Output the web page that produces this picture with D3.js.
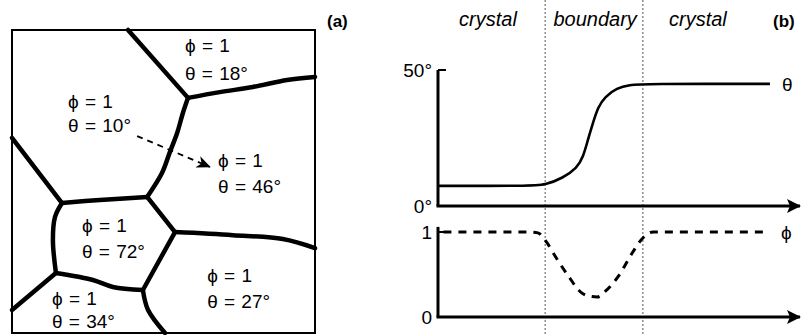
<!DOCTYPE html>
<html><head><meta charset="utf-8">
<script src="https://cdn.jsdelivr.net/npm/d3@7"></script>
<style>body{margin:0;background:#fff}svg{display:block}text{font-family:"Liberation Sans",Arial,sans-serif;fill:#000}</style>
</head><body>
<script>
// ---------- Panel (a): grain map (map units 0..100) ----------
const boundaries = [
  [[38.3,0],[58.1,22.4]],
  [[58.1,22.4],[68.6,20.5],[79.5,18.8],[90.8,16.5],[100,15.5]],
  [[58.1,22.4],[56.4,27.4],[54.5,34],[52.1,40.3],[49.5,47.2],[44.6,55.1]],
  [[0,35.6],[16.5,57.1]],
  [[16.5,57.1],[29,56.1],[44.6,55.1]],
  [[44.6,55.1],[53.8,66.7]],
  [[53.8,66.7],[72.9,67.7],[89.4,69],[100,72]],
  [[16.5,57.1],[14.2,61.7],[13.5,69.3],[14.5,80.2]],
  [[14.5,80.2],[0,92.4]],
  [[14.5,80.2],[26.7,82.5],[33.3,84.8],[43.2,85.8]],
  [[53.8,66.7],[43.2,85.8]],
  [[43.2,85.8],[44.9,92.4],[50.5,100]]
];
const grainPhi   = [1, 1, 1, 1, 1, 1];
const grainTheta = [18, 10, 46, 72, 27, 34];
const grainLabelX = [57.1, 18.5, 68.0, 23.1, 64.4, 13.2];
const grainPhiY   = [7.3, 25.7, 45.2, 66.7, 83.2, 90.8];
const grainThetaY = [16.5, 33.7, 53.8, 75.2, 91.7, 98.3];
const rotationArrow = [[41.3,35],[65.3,45.2]];

// ---------- Panel (b): profiles ----------
const thetaX = [0, 25.4, 29.6, 34.5, 38.4, 40.1, 41.4, 42.8, 44.2, 46.1, 49.4, 53.0, 56.6, 91.7];
const thetaV = [7.4, 7.4, 7.7, 10.3, 14.0, 18.0, 24.3, 30.5, 36.4, 40.1, 43.4, 44.5, 44.9, 44.9];
const phiX = [1.5, 25.5, 27.6, 30.0, 32.6, 36.2, 39.5, 42.5, 44.0, 46.4, 50.0, 53.6, 56.6, 59.4, 90.9];
const phiV = [1, 1, 0.99, 0.88, 0.70, 0.47, 0.29, 0.24, 0.235, 0.31, 0.49, 0.75, 0.93, 1, 1];
const thetaTicks = [0, 50];
const thetaTickLabels = ["0°", "50°"];
const phiTicks = [0, 1];
const phiTickLabels = ["0", "1"];
const regionNames = ["crystal", "boundary", "crystal"];
const regionX = [13.8, 43.4, 71.8];
const boundaryEdges = [29.6, 56.6];

const PHI = "\u03D5", THETA = "\u03B8";
const W = 803, H = 335;
const svg = d3.select("body").append("svg").attr("width", W).attr("height", H);
const defs = svg.append("defs");
defs.append("marker").attr("id","axarrow").attr("viewBox","0 0 14 14").attr("refX",13).attr("refY",7)
  .attr("markerWidth",14).attr("markerHeight",14).attr("markerUnits","userSpaceOnUse").attr("orient","auto")
  .append("path").attr("d","M0,0 L14,7 L0,14 L3,7 Z").attr("fill","#000");
defs.append("marker").attr("id","smallarrow").attr("viewBox","0 0 14 12").attr("refX",13).attr("refY",6)
  .attr("markerWidth",14).attr("markerHeight",12).attr("markerUnits","userSpaceOnUse").attr("orient","auto")
  .append("path").attr("d","M0,0 L14,6 L0,12 L4,6 Z").attr("fill","#000");

// ---- Panel (a)
const mx = d3.scaleLinear([0,100],[12,315]);
const my = d3.scaleLinear([0,100],[30,333]);
const gA = svg.append("g");
gA.append("rect").attr("x",mx(0)).attr("y",my(0)).attr("width",mx(100)-mx(0)).attr("height",my(100)-my(0))
  .attr("fill","none").attr("stroke","#000").attr("stroke-width",2);
const mline = d3.line().x(d=>mx(d[0])).y(d=>my(d[1])).curve(d3.curveCatmullRom.alpha(0.5));
gA.selectAll("path.gb").data(boundaries).join("path").attr("class","gb")
  .attr("d", mline).attr("fill","none").attr("stroke","#000").attr("stroke-width",4.5)
  .attr("stroke-linejoin","round").attr("stroke-linecap","round");
gA.append("path").attr("d", d3.line().x(d=>mx(d[0])).y(d=>my(d[1]))(rotationArrow))
  .attr("fill","none").attr("stroke","#000").attr("stroke-width",1.8).attr("stroke-dasharray","6,5")
  .attr("marker-end","url(#smallarrow)");
const fs = 19;
grainTheta.forEach((t,i)=>{
  gA.append("text").attr("x",mx(grainLabelX[i])).attr("y",my(grainPhiY[i])).attr("font-size",fs)
    .attr("word-spacing",1).text(PHI + " = " + grainPhi[i]);
  gA.append("text").attr("x",mx(grainLabelX[i])).attr("y",my(grainThetaY[i])).attr("font-size",fs)
    .attr("word-spacing",1).text(THETA + " = " + t + "°");
});
svg.append("text").attr("x",327).attr("y",27).attr("font-size",17).attr("font-weight","bold").text("(a)");

// ---- Panel (b)
const xb = d3.scaleLinear([0,100],[438,800]);
const yT = d3.scaleLinear([0,50],[206,70]);
const yP = d3.scaleLinear([0,1],[317,232]);
const gB = svg.append("g");
boundaryEdges.forEach(e=>{
  gB.append("line").attr("x1",xb(e)).attr("x2",xb(e)).attr("y1",0).attr("y2",H)
    .attr("stroke","#555").attr("stroke-width",1).attr("stroke-dasharray","2,2");
});
regionNames.forEach((n,i)=>{
  gB.append("text").attr("x",xb(regionX[i])).attr("y",26).attr("text-anchor","middle")
    .attr("font-size",20).attr("font-style","italic").text(n);
});
svg.append("text").attr("x",773).attr("y",27).attr("font-size",17).attr("font-weight","bold").text("(b)");

function drawAxes(yScale, top, ticks, labels){
  gB.append("line").attr("x1",xb(0)).attr("x2",xb(0)).attr("y1",top).attr("y2",yScale(ticks[0]))
    .attr("stroke","#000").attr("stroke-width",3);
  gB.append("line").attr("x1",xb(0)-1.5).attr("x2",xb(100)).attr("y1",yScale(ticks[0])).attr("y2",yScale(ticks[0]))
    .attr("stroke","#000").attr("stroke-width",3).attr("marker-end","url(#axarrow)");
  gB.append("line").attr("x1",xb(0)).attr("x2",xb(0)+8).attr("y1",yScale(ticks[1])).attr("y2",yScale(ticks[1]))
    .attr("stroke","#000").attr("stroke-width",2);
  ticks.forEach((t,i)=>{
    gB.append("text").attr("x",xb(0)-6).attr("y",yScale(t)).attr("dy","0.35em").attr("text-anchor","end")
      .attr("font-size",19).text(labels[i]);
  });
}
drawAxes(yT, yT(50), thetaTicks, thetaTickLabels);
drawAxes(yP, yP(1.06), phiTicks, phiTickLabels);

gB.append("path").datum(thetaX.map((x,i)=>[x,thetaV[i]]))
  .attr("d", d3.line().x(d=>xb(d[0])).y(d=>yT(d[1])).curve(d3.curveBasis))
  .attr("fill","none").attr("stroke","#000").attr("stroke-width",2.6);
gB.append("path").datum(phiX.map((x,i)=>[x,phiV[i]]))
  .attr("d", d3.line().x(d=>xb(d[0])).y(d=>yP(d[1])).curve(d3.curveMonotoneX))
  .attr("fill","none").attr("stroke","#000").attr("stroke-width",3).attr("stroke-dasharray","8,7");
gB.append("text").attr("x",xb(thetaX[thetaX.length-1])+12).attr("y",yT(thetaV[thetaV.length-1])).attr("dy","0.35em")
  .attr("font-size",19).text(THETA);
gB.append("text").attr("x",xb(phiX[phiX.length-1])+14).attr("y",yP(1)).attr("dy","0.35em")
  .attr("font-size",19).text(PHI);
</script>
</body></html>
